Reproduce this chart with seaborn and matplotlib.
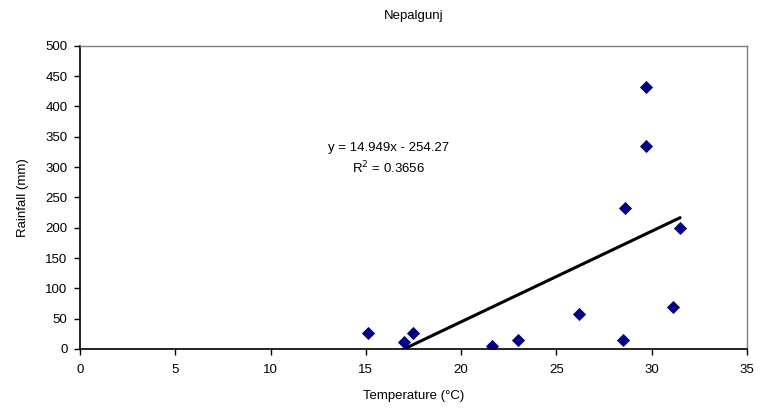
import numpy as np
import pandas as pd
import matplotlib
matplotlib.use("Agg")
import matplotlib.pyplot as plt
import seaborn as sns

temperature = [15.1, 17.0, 17.5, 21.6, 23.0, 26.2, 28.5, 28.6, 29.7, 29.7, 31.1, 31.5]
rainfall = [27, 12, 27, 5, 15, 57, 15, 232, 335, 432, 70, 200]
slope = 14.949
intercept = -254.27
equation_text = "y = 14.949x - 254.27\nR$^2$ = 0.3656"
x_ticks = [0, 5, 10, 15, 20, 25, 30, 35]
y_ticks = [0, 50, 100, 150, 200, 250, 300, 350, 400, 450, 500]

sns.set_style("white")
plt.rcParams['font.family'] = ['Liberation Sans', 'DejaVu Sans']
plt.rcParams['text.color'] = 'black'
plt.rcParams['axes.labelcolor'] = 'black'

df = pd.DataFrame({"Temperature": temperature, "Rainfall": rainfall})

fig = plt.figure(figsize=(7.66, 4.13), dpi=100)
ax = fig.add_axes([0.1044, 0.155, 0.8706, 0.734])

sns.scatterplot(data=df, x="Temperature", y="Rainfall", marker="D", s=45,
                color="#000080", edgecolor="#000080", linewidth=0, ax=ax, zorder=3)

xs = np.array([min(temperature), max(temperature)])
ax.plot(xs, slope * xs + intercept, color="black", linewidth=2.2, zorder=2)

ax.set_xlim(0, 35)
ax.set_ylim(0, 500)
ax.set_xticks(x_ticks)
ax.set_yticks(y_ticks)
ax.tick_params(axis="both", direction="out", length=4, width=1, labelsize=9.5,
               colors="black", bottom=True, left=True)
ax.tick_params(axis="x", pad=7)
ax.tick_params(axis="y", pad=5)
for side in ["left", "bottom"]:
    ax.spines[side].set_color("black")
    ax.spines[side].set_linewidth(1.2)
for side in ["top", "right"]:
    ax.spines[side].set_visible(True)
    ax.spines[side].set_color("#808080")
    ax.spines[side].set_linewidth(1.0)

ax.set_xlabel("Temperature (°C)", fontsize=9.5, labelpad=10)
ax.set_ylabel("Rainfall (mm)", fontsize=9.5, labelpad=12)
ax.set_title("Nepalgunj", fontsize=9.5, pad=19)

ax.text(16.2, 313, equation_text, ha="center", va="center", fontsize=9.5,
        linespacing=1.45)

fig.savefig("out.png", dpi=100)
